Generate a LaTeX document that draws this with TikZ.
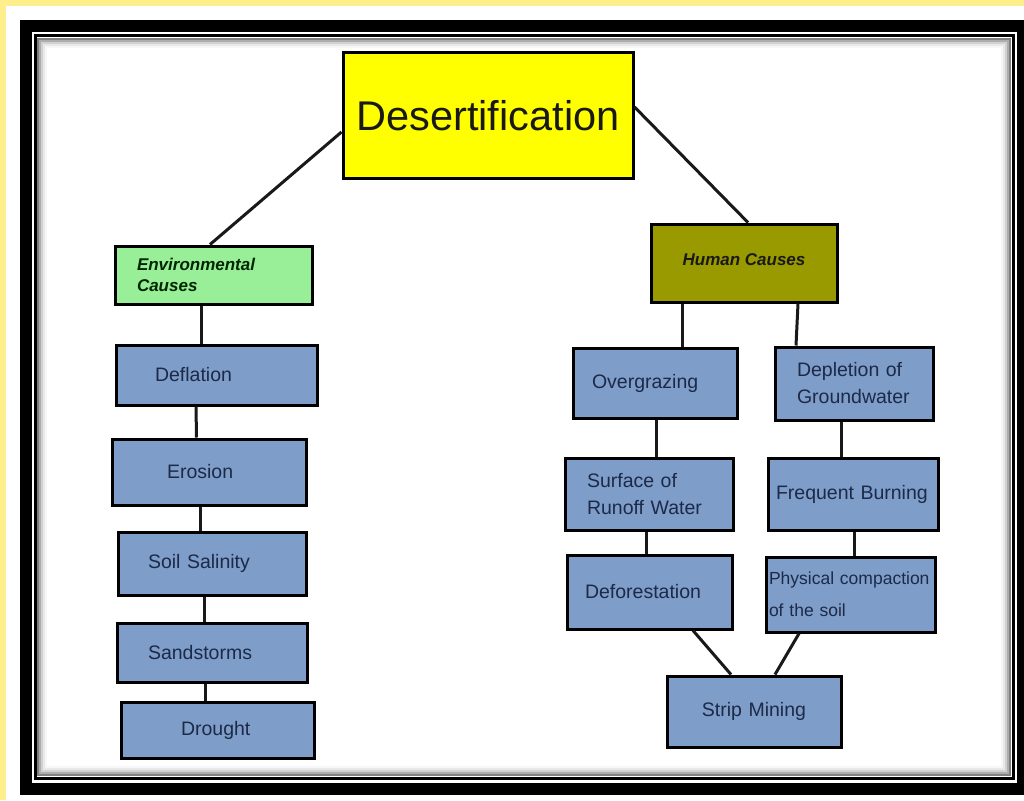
\documentclass[tikz,border=0pt]{standalone}
\usepackage{fontspec}
\setsansfont{Liberation Sans}
\usepackage{tikz}
\usetikzlibrary{positioning}
\definecolor{pagebg}{HTML}{FFEF8C}
\definecolor{topic}{HTML}{FFFF00}
\definecolor{envgreen}{HTML}{98EF98}
\definecolor{humanolive}{HTML}{999900}
\definecolor{causeblue}{HTML}{7E9DC9}
\definecolor{causetext}{HTML}{1C2A48}

\begin{document}
\begin{tikzpicture}[
  x=1pt, y=-1pt,
  every node/.style={font=\sffamily},
  topicbox/.style={
    draw=black, line width=3pt, fill=topic, inner sep=0pt,
    minimum width=290pt, minimum height=125pt, text=black!90,
    font=\sffamily\fontsize{41.5}{48}\selectfont,
  },
  groupbox/.style={
    draw=black, line width=3pt, inner ysep=0pt, align=left,
    font=\sffamily\bfseries\itshape\fontsize{17}{21}\selectfont,
  },
  causebox/.style={
    draw=black, line width=3pt, fill=causeblue, text=causetext,
    inner ysep=0pt, align=left,
    font=\sffamily\fontsize{19.5}{27}\selectfont,
  },
  link/.style={line width=3pt, draw=black!90},
]
  \useasboundingbox (0,0) rectangle (1024,800);
  % page and frame
  \fill[pagebg] (0,0) rectangle (1024,800);
  \fill[white] (6,6) rectangle (1024,800);
  \fill[black] (20,20) rectangle (1024,795);
  \fill[white] (32,32) rectangle (1017,783);
  \draw[line width=3pt] (35,36) rectangle (1013,778);
  \foreach \d/\g in {0/50,2/32,4/18,6/9,8/3}
    \draw[black!\g, line width=2pt] (38+\d,39+\d) rectangle (1010-\d,775-\d);

  % top and the two groups
  \node[topicbox] (desert) at (488,115.5) {Desertification};
  \node[groupbox, fill=envgreen, text=black!85!green, text width=153pt,
        inner xsep=22pt, minimum height=58pt] (env) at (213.5,275)
        {Environmental\\Causes};
  \node[groupbox, fill=humanolive, text=black!90, align=center,
        minimum width=186pt, minimum height=78pt, inner xsep=0pt] (human)
        at (744,263) {\raisebox{6pt}{Human Causes}};

  % environmental causes
  \node[causebox, text width=123pt, inner xsep=39pt, minimum height=60pt]
        (defl) at (216.5,375) {\raisebox{-3pt}{Deflation}};
  \node[causebox, text width=84pt, inner xsep=55pt, minimum height=66pt]
        (eros) at (209,472) {Erosion};
  \node[causebox, text width=128pt, inner xsep=30pt, minimum height=63pt]
        (soil) at (212,563.5) {Soil Salinity};
  \node[causebox, text width=128pt, inner xsep=31pt, minimum height=59pt]
        (sand) at (212,652.5) {Sandstorms};
  \node[causebox, text width=73pt, inner xsep=60pt, minimum height=56pt]
        (drought) at (217.5,730) {Drought};

  % human causes
  \node[causebox, text width=126pt, inner xsep=19pt, minimum height=70pt]
        (overg) at (655,383) {Overgrazing};
  \node[causebox, text width=114pt, inner xsep=22pt, minimum height=73pt]
        (deplet) at (854,383.5) {Depletion of\\Groundwater};
  \node[causebox, text width=124pt, inner xsep=22pt, minimum height=72pt]
        (surf) at (649,494) {Surface of\\Runoff Water};
  \node[causebox, text width=154pt, inner xsep=8pt, minimum height=72pt]
        (freq) at (853,494) {Frequent Burning};
  \node[causebox, text width=163pt, inner xsep=3pt, minimum height=75pt,
        font=\sffamily\fontsize{17.5}{32}\selectfont]
        (phys) at (850.5,594.5) {Physical compaction\\of the soil};
  \node[causebox, text width=129pt, inner xsep=18pt, minimum height=74pt]
        (defor) at (649.5,592) {Deforestation};
  \node[causebox, text width=134pt, inner xsep=20pt, minimum height=71pt,
        align=center] (strip) at (754,711.5) {Strip Mining};

  % top links
  \draw[link] ([yshift=-16.5pt]desert.west) -- ([xshift=-3.5pt]env.north);
  \draw[link] ([yshift=8.5pt]desert.east)   -- ([xshift=4pt]human.north);

  % left chain
  \draw[link] ([xshift=-12.5pt]env.south)  -- ([xshift=-15.5pt]defl.north);
  \draw[link] ([xshift=-20.5pt]defl.south) -- ([xshift=-12.5pt]eros.north);
  \draw[link] ([xshift=-9pt]eros.south)    -- ([xshift=-12pt]soil.north);
  \draw[link] ([xshift=-8pt]soil.south)    -- ([xshift=-8pt]sand.north);
  \draw[link] ([xshift=-7pt]sand.south)    -- ([xshift=-12.5pt]drought.north);

  % right branches
  \draw[link] ([xshift=-62pt]human.south)  -- ([xshift=27pt]overg.north);
  \draw[link] ([xshift=54pt]human.south)   -- ([xshift=-58pt]deplet.north);
  \draw[link] ([xshift=1pt]overg.south)    -- ([xshift=7pt]surf.north);
  \draw[link] ([xshift=-13pt]deplet.south) -- ([xshift=-12pt]freq.north);
  \draw[link] ([xshift=-3pt]surf.south)    -- ([xshift=-3.5pt]defor.north);
  \draw[link] ([xshift=1pt]freq.south)     -- ([xshift=3.5pt]phys.north);
  \draw[link] ([xshift=43.5pt]defor.south) -- ([xshift=-23pt]strip.north);
  \draw[link] ([xshift=-51.5pt]phys.south) -- ([xshift=21pt]strip.north);
\end{tikzpicture}
\end{document}
